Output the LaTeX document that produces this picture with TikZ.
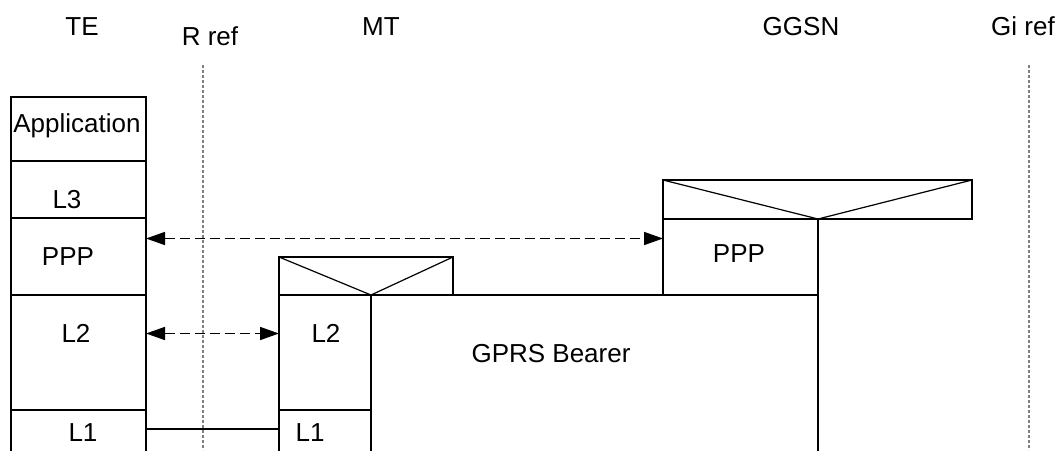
\documentclass[tikz,border=0pt]{standalone}
\usepackage{fontspec}
\setmainfont{Liberation Sans}
\usetikzlibrary{arrows.meta, positioning, calc}

\tikzset{
  layer/.style={draw, line width=1.8pt, inner sep=0pt, outer sep=0pt, anchor=north west},
  relay/.style={draw, line width=1.2pt, inner sep=0pt, outer sep=0pt},
  lbl/.style={font=\fontsize{26}{31}\selectfont, inner sep=0pt, text height=18.5pt, text depth=0pt},
  peer/.style={line width=1.6pt, dash pattern=on 10pt off 5pt, {Triangle[length=19pt,width=13pt]}-{Triangle[length=19pt,width=13pt]}},
  refline/.style={gray, line width=1.1pt, dash pattern=on 3pt off 2pt}
}

\begin{document}
\begin{tikzpicture}[x=1pt, y=-1pt]
\useasboundingbox (0,0) rectangle (1060,450);
\clip (0,0) rectangle (1060,450);

% Titles
\node[lbl] (te-name) at (82,26) {TE};
\node[lbl] (rref-name) at (210,36) {R ref};
\node[lbl] (mt-name) at (381,26) {MT};
\node[lbl] (ggsn-name) at (801,26) {GGSN};
\node[lbl] (giref-name) at (1023,26) {Gi ref};

% Reference points
\coordinate (rref-top) at (203,65);
\coordinate (giref-top) at (1029,65);
\draw[refline] (rref-top) -- (rref-top |- 0,450);
\draw[refline] (giref-top) -- (giref-top |- 0,450);

% TE stack
\node[layer, minimum width=135pt, minimum height=64pt] (te-app) at (11,97) {};
\node[layer, minimum width=135pt, minimum height=57pt, below=0pt of te-app] (te-l3) {};
\node[layer, minimum width=135pt, minimum height=77pt, below=0pt of te-l3] (te-ppp) {};
\node[layer, minimum width=135pt, minimum height=115pt, below=0pt of te-ppp] (te-l2) {};
\node[layer, minimum width=135pt, minimum height=50pt, below=0pt of te-l2] (te-l1) {};

\node[lbl] (app-txt) at (77,123) {Application};
\node[lbl] (l3-txt) at (67,199) {L3};
\node[lbl] (teppp-txt) at (68,256) {PPP};
\node[lbl] (tel2-txt) at (76,333) {L2};
\node[lbl] (tel1-txt) at (83,432) {L1};

% MT stack
\node[layer, minimum width=92pt, minimum height=115pt] (mt-l2) at (279,295) {};
\node[layer, minimum width=92pt, minimum height=50pt, below=0pt of mt-l2] (mt-l1) {};
\node[relay, minimum width=174pt, minimum height=38pt, anchor=south west] (mt-relay) at (mt-l2.north west) {};
\draw[line width=1.2pt] (mt-relay.north west) -- (mt-l2.north east) -- (mt-relay.north east);

\node[lbl] (mtl2-txt) at (326,333) {L2};
\node[lbl] (mtl1-txt) at (310,432) {L1};

% GPRS bearer and GGSN
\node[layer, minimum width=447pt, minimum height=165pt] (bearer) at (mt-l2.north east) {};
\node[layer, minimum width=155pt, minimum height=76pt, anchor=south east] (gg-ppp) at (bearer.north east) {};
\node[relay, minimum width=309pt, minimum height=39pt, anchor=south west] (gg-relay) at (gg-ppp.north west) {};
\draw[line width=1.2pt] (gg-relay.north west) -- (gg-ppp.north east) -- (gg-relay.north east);

\node[lbl] (bearer-txt) at (551,353) {GPRS Bearer};
\node[lbl] (ggppp-txt) at (739,253) {PPP};

% Peer links
\draw[peer] ([yshift=18pt]te-ppp.east) -- ([yshift=18pt]te-ppp.east -| gg-ppp.west);
\draw[peer] ([yshift=19pt]te-l2.east) -- ([yshift=19pt]mt-l2.west);
\draw[line width=2.4pt] ([yshift=6pt]te-l1.east) -- ([yshift=6pt]mt-l1.west);
\end{tikzpicture}
\end{document}
